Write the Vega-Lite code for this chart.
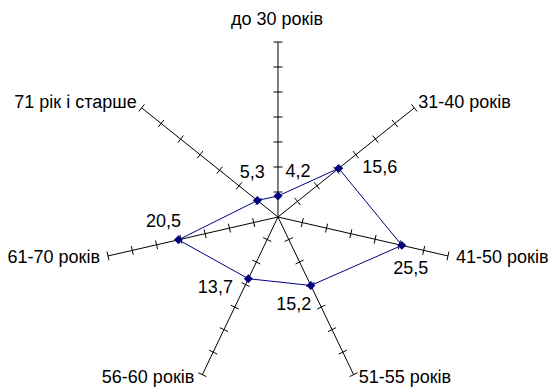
{
  "$schema": "https://vega.github.io/schema/vega-lite/v6.json",
  "width": 549,
  "height": 387,
  "autosize": {"type": "fit", "contains": "padding"},
  "padding": 0,
  "background": "white",
  "config": {
    "view": {"stroke": null},
    "text": {"font": "Liberation Sans", "fontSize": 18, "color": "#000000", "baseline": "middle"}
  },
  "data": {
    "values": [
      {"cat": "до 30 років", "value": 4.2},
      {"cat": "31-40 років", "value": 15.6},
      {"cat": "41-50 років", "value": 25.5},
      {"cat": "51-55 років", "value": 15.2},
      {"cat": "56-60 років", "value": 13.7},
      {"cat": "61-70 років", "value": 20.5},
      {"cat": "71 рік і старше", "value": 5.3}
    ]
  },
  "transform": [
    {"calculate": "indexof(['до 30 років','31-40 років','41-50 років','51-55 років','56-60 років','61-70 років','71 рік і старше'], datum.cat)", "as": "k"},
    {"calculate": "PI/2 - datum.k*2*PI/7", "as": "a"},
    {"calculate": "35*cos(datum.a)", "as": "ex"},
    {"calculate": "35*sin(datum.a)", "as": "ey"},
    {"calculate": "datum.value*cos(datum.a)", "as": "vx"},
    {"calculate": "datum.value*sin(datum.a)", "as": "vy"},
    {"calculate": "replace(format(datum.value,'.1f'),'.',',')", "as": "lbl"},
    {"calculate": "0", "as": "zero"}
  ],
  "layer": [
    {
      "mark": {"type": "rule", "color": "#000000", "strokeWidth": 1},
      "encoding": {
        "x": {"field": "zero", "type": "quantitative", "scale": {"domain": [-55.8, 54], "nice": false, "zero": false}, "axis": null},
        "y": {"field": "zero", "type": "quantitative", "scale": {"domain": [-34, 43.4], "nice": false, "zero": false}, "axis": null},
        "x2": {"field": "ex"},
        "y2": {"field": "ey"}
      }
    },
    {
      "transform": [
        {"calculate": "[5,10,15,20,25,30,35]", "as": "t"},
        {"flatten": ["t"]},
        {"calculate": "datum.t*cos(datum.a) + 0.9*sin(datum.a)", "as": "tx1"},
        {"calculate": "datum.t*sin(datum.a) - 0.9*cos(datum.a)", "as": "ty1"},
        {"calculate": "datum.t*cos(datum.a) - 0.9*sin(datum.a)", "as": "tx2"},
        {"calculate": "datum.t*sin(datum.a) + 0.9*cos(datum.a)", "as": "ty2"}
      ],
      "mark": {"type": "rule", "color": "#000000", "strokeWidth": 1},
      "encoding": {
        "x": {"field": "tx1", "type": "quantitative", "scale": {"domain": [-55.8, 54], "nice": false, "zero": false}, "axis": null},
        "y": {"field": "ty1", "type": "quantitative", "scale": {"domain": [-34, 43.4], "nice": false, "zero": false}, "axis": null},
        "x2": {"field": "tx2"},
        "y2": {"field": "ty2"}
      }
    },
    {
      "mark": {"type": "line", "color": "#000080", "strokeWidth": 1, "interpolate": "linear-closed"},
      "encoding": {
        "x": {"field": "vx", "type": "quantitative", "scale": {"domain": [-55.8, 54], "nice": false, "zero": false}, "axis": null},
        "y": {"field": "vy", "type": "quantitative", "scale": {"domain": [-34, 43.4], "nice": false, "zero": false}, "axis": null},
        "order": {"field": "k", "type": "quantitative"}
      }
    },
    {
      "mark": {"type": "point", "shape": "diamond", "filled": true, "size": 80, "color": "#000080", "opacity": 1},
      "encoding": {
        "x": {"field": "vx", "type": "quantitative", "scale": {"domain": [-55.8, 54], "nice": false, "zero": false}, "axis": null},
        "y": {"field": "vy", "type": "quantitative", "scale": {"domain": [-34, 43.4], "nice": false, "zero": false}, "axis": null}
      }
    },
    {"transform": [{"filter": "datum.k == 0"}], "mark": {"type": "text", "align": "center", "dx": 20, "dy": -24},
     "encoding": {"x": {"field": "vx", "type": "quantitative"}, "y": {"field": "vy", "type": "quantitative"}, "text": {"field": "lbl"}}},
    {"transform": [{"filter": "datum.k == 1"}], "mark": {"type": "text", "align": "center", "dx": 41, "dy": 0},
     "encoding": {"x": {"field": "vx", "type": "quantitative"}, "y": {"field": "vy", "type": "quantitative"}, "text": {"field": "lbl"}}},
    {"transform": [{"filter": "datum.k == 2"}], "mark": {"type": "text", "align": "center", "dx": 9, "dy": 24},
     "encoding": {"x": {"field": "vx", "type": "quantitative"}, "y": {"field": "vy", "type": "quantitative"}, "text": {"field": "lbl"}}},
    {"transform": [{"filter": "datum.k == 3"}], "mark": {"type": "text", "align": "center", "dx": -17, "dy": 20},
     "encoding": {"x": {"field": "vx", "type": "quantitative"}, "y": {"field": "vy", "type": "quantitative"}, "text": {"field": "lbl"}}},
    {"transform": [{"filter": "datum.k == 4"}], "mark": {"type": "text", "align": "center", "dx": -33, "dy": 9},
     "encoding": {"x": {"field": "vx", "type": "quantitative"}, "y": {"field": "vy", "type": "quantitative"}, "text": {"field": "lbl"}}},
    {"transform": [{"filter": "datum.k == 5"}], "mark": {"type": "text", "align": "center", "dx": -15, "dy": -18},
     "encoding": {"x": {"field": "vx", "type": "quantitative"}, "y": {"field": "vy", "type": "quantitative"}, "text": {"field": "lbl"}}},
    {"transform": [{"filter": "datum.k == 6"}], "mark": {"type": "text", "align": "center", "dx": -5, "dy": -27},
     "encoding": {"x": {"field": "vx", "type": "quantitative"}, "y": {"field": "vy", "type": "quantitative"}, "text": {"field": "lbl"}}},
    {"transform": [{"filter": "datum.k == 0"}], "mark": {"type": "text", "align": "center", "dx": -1, "dy": -22},
     "encoding": {"x": {"field": "ex", "type": "quantitative"}, "y": {"field": "ey", "type": "quantitative"}, "text": {"field": "cat"}}},
    {"transform": [{"filter": "datum.k == 1"}], "mark": {"type": "text", "align": "left", "dx": 4, "dy": -5},
     "encoding": {"x": {"field": "ex", "type": "quantitative"}, "y": {"field": "ey", "type": "quantitative"}, "text": {"field": "cat"}}},
    {"transform": [{"filter": "datum.k == 2"}], "mark": {"type": "text", "align": "left", "dx": 8, "dy": 2},
     "encoding": {"x": {"field": "ex", "type": "quantitative"}, "y": {"field": "ey", "type": "quantitative"}, "text": {"field": "cat"}}},
    {"transform": [{"filter": "datum.k == 3"}], "mark": {"type": "text", "align": "left", "dx": 5, "dy": 3},
     "encoding": {"x": {"field": "ex", "type": "quantitative"}, "y": {"field": "ey", "type": "quantitative"}, "text": {"field": "cat"}}},
    {"transform": [{"filter": "datum.k == 4"}], "mark": {"type": "text", "align": "right", "dx": -8, "dy": 3},
     "encoding": {"x": {"field": "ex", "type": "quantitative"}, "y": {"field": "ey", "type": "quantitative"}, "text": {"field": "cat"}}},
    {"transform": [{"filter": "datum.k == 5"}], "mark": {"type": "text", "align": "right", "dx": -8, "dy": 2},
     "encoding": {"x": {"field": "ex", "type": "quantitative"}, "y": {"field": "ey", "type": "quantitative"}, "text": {"field": "cat"}}},
    {"transform": [{"filter": "datum.k == 6"}], "mark": {"type": "text", "align": "right", "dx": -5, "dy": -5},
     "encoding": {"x": {"field": "ex", "type": "quantitative"}, "y": {"field": "ey", "type": "quantitative"}, "text": {"field": "cat"}}}
  ]
}
